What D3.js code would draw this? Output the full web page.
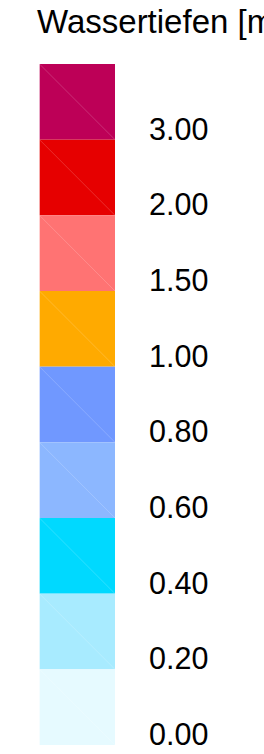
<!DOCTYPE html>
<html>
<head>
<meta charset="utf-8">
<script src="https://cdn.jsdelivr.net/npm/d3@7"></script>
<style>
  html, body { margin: 0; padding: 0; background: #fff; overflow: hidden; }
  svg { display: block; }
</style>
</head>
<body>
<div id="legend"></div>
<script>
(function() {

// classes, top to bottom
const classes = ["c9", "c8", "c7", "c6", "c5", "c4", "c3", "c2", "c1"];
const labels = ["3.00", "2.00", "1.50", "1.00", "0.80", "0.60", "0.40", "0.20", "0.00"];
const colors = ["#bd0057", "#e60000", "#ff7373", "#ffaa00", "#7098ff", "#8cb7ff", "#00d9ff", "#a8ebff", "#e6faff"];
const title = "Wassertiefen [m]";

const width = 264, height = 754;

const svg = d3.select("#legend").append("svg")
	.attr("width", width)
	.attr("height", height);

const y = d3.scaleBand()
	.domain(classes)
	.range([64, 745])
	.padding(0);

const x0 = 39.5, x1 = 115;

svg.append("text")
	.attr("x", 37)
	.attr("y", 33)
	.attr("font-family", "Liberation Sans, Arial, sans-serif")
	.attr("font-size", 33)
	.attr("fill", "#000")
	.text(title);

const g = svg.selectAll(".swatch")
	.data(classes)
	.enter().append("g")
	.attr("class", "swatch");

g.append("rect")
	.attr("x", x0)
	.attr("y", d => y(d))
	.attr("width", x1 - x0)
	.attr("height", y.bandwidth())
	.attr("fill", (d, i) => colors[i]);

// faint diagonal seam
g.append("line")
	.attr("x1", x0)
	.attr("y1", d => y(d))
	.attr("x2", x1)
	.attr("y2", d => y(d) + y.bandwidth())
	.attr("stroke", "#fff")
	.attr("stroke-opacity", 0.18)
	.attr("stroke-width", 1);

// lighter left edge
g.append("line")
	.attr("x1", x0)
	.attr("y1", d => y(d))
	.attr("x2", x0)
	.attr("y2", d => y(d) + y.bandwidth())
	.attr("stroke", "#fff")
	.attr("stroke-opacity", 0.35)
	.attr("stroke-width", 1);

g.append("text")
	.attr("x", 149)
	.attr("y", d => y(d) + y.bandwidth())
	.attr("font-family", "Liberation Sans, Arial, sans-serif")
	.attr("font-size", 30.5)
	.attr("fill", "#000")
	.text((d, i) => labels[i]);

})();
</script>
</body>
</html>
